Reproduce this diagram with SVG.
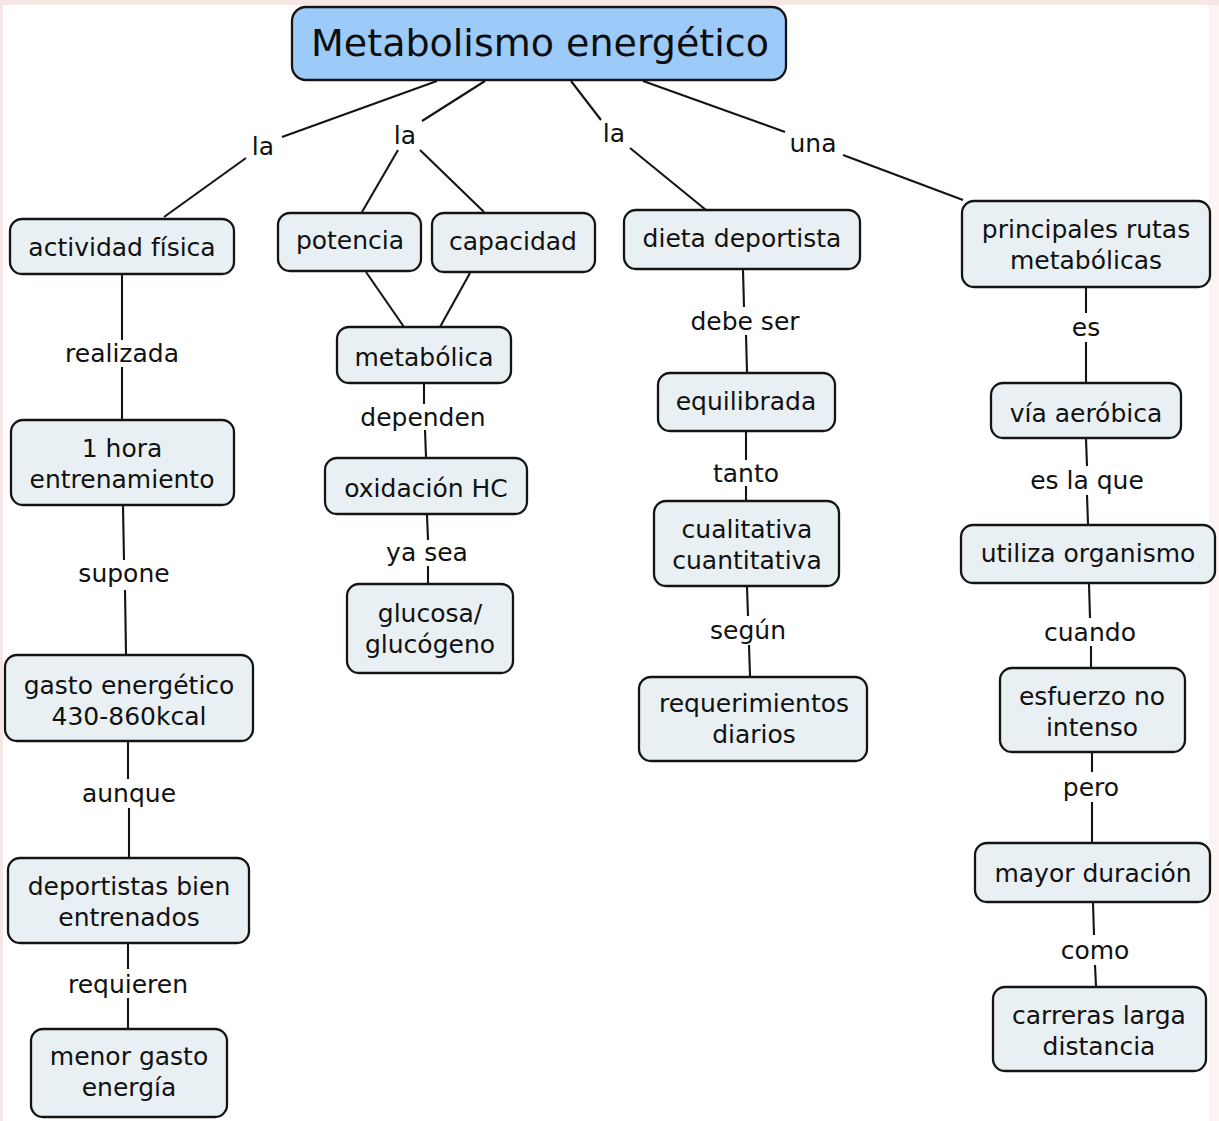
<svg xmlns="http://www.w3.org/2000/svg" width="1219" height="1121" viewBox="0 0 1219 1121">
<style>
.n rect{fill:#e9f0f3;stroke:#141414;stroke-width:2.3}
.t{font-family:"DejaVu Sans",Verdana,sans-serif;font-size:25px;fill:#111;text-anchor:middle}
.lbl{font-family:"DejaVu Sans",Verdana,sans-serif;font-size:25px;fill:#111;text-anchor:middle}
#connectors line{stroke:#141414;stroke-width:2.1;fill:none}
</style>
<rect x="0" y="0" width="1219" height="1121" fill="#f6e7e4"/>
<rect x="1209" y="5" width="10" height="1116" fill="#fbf4f3"/>
<rect x="3" y="5" width="1206" height="1116" fill="#ffffff"/>

<g id="connectors">
  <line x1="437" y1="81" x2="282" y2="137"/>
  <line x1="246" y1="158" x2="164" y2="217"/>
  <line x1="485" y1="81" x2="422" y2="121"/>
  <line x1="398" y1="150" x2="362" y2="212"/>
  <line x1="420" y1="150" x2="484" y2="212"/>
  <line x1="571" y1="81" x2="601" y2="120"/>
  <line x1="630" y1="148" x2="706" y2="210"/>
  <line x1="643" y1="81" x2="785" y2="132"/>
  <line x1="843" y1="155" x2="963" y2="200"/>
  <line x1="366" y1="272" x2="404" y2="327"/>
  <line x1="470" y1="273" x2="440" y2="327"/>
  <line x1="122" y1="275" x2="122" y2="340"/>
  <line x1="122" y1="367" x2="122" y2="419"/>
  <line x1="123" y1="506" x2="124" y2="560"/>
  <line x1="125" y1="590" x2="126" y2="654"/>
  <line x1="128" y1="742" x2="128" y2="779"/>
  <line x1="129" y1="808" x2="129" y2="857"/>
  <line x1="128" y1="944" x2="128" y2="969"/>
  <line x1="128" y1="998" x2="128" y2="1028"/>
  <line x1="424" y1="384" x2="424" y2="404"/>
  <line x1="425" y1="430" x2="426" y2="457"/>
  <line x1="427" y1="515" x2="428" y2="540"/>
  <line x1="428" y1="566" x2="428" y2="583"/>
  <line x1="743" y1="270" x2="744" y2="307"/>
  <line x1="746" y1="335" x2="747" y2="372"/>
  <line x1="746" y1="432" x2="746" y2="460"/>
  <line x1="746" y1="486" x2="746" y2="500"/>
  <line x1="747" y1="587" x2="748" y2="616"/>
  <line x1="749" y1="645" x2="750" y2="676"/>
  <line x1="1086" y1="288" x2="1086" y2="313"/>
  <line x1="1086" y1="342" x2="1086" y2="382"/>
  <line x1="1086" y1="439" x2="1087" y2="466"/>
  <line x1="1087" y1="495" x2="1088" y2="524"/>
  <line x1="1089" y1="584" x2="1090" y2="618"/>
  <line x1="1091" y1="646" x2="1091" y2="667"/>
  <line x1="1092" y1="753" x2="1092" y2="772"/>
  <line x1="1092" y1="802" x2="1092" y2="842"/>
  <line x1="1093" y1="903" x2="1094" y2="935"/>
  <line x1="1095" y1="965" x2="1096" y2="986"/>
</g>

<g id="labels">
  <text class="lbl" x="263" y="155">la</text>
  <text class="lbl" x="405" y="144">la</text>
  <text class="lbl" x="614" y="142">la</text>
  <text class="lbl" x="813" y="152">una</text>
  <text class="lbl" x="122" y="362">realizada</text>
  <text class="lbl" x="124" y="582">supone</text>
  <text class="lbl" x="129" y="802">aunque</text>
  <text class="lbl" x="128" y="993">requieren</text>
  <text class="lbl" x="423" y="426">dependen</text>
  <text class="lbl" x="427" y="561">ya sea</text>
  <text class="lbl" x="745" y="330">debe ser</text>
  <text class="lbl" x="746" y="482">tanto</text>
  <text class="lbl" x="748" y="639">según</text>
  <text class="lbl" x="1086" y="336">es</text>
  <text class="lbl" x="1087" y="489">es la que</text>
  <text class="lbl" x="1090" y="641">cuando</text>
  <text class="lbl" x="1091" y="796">pero</text>
  <text class="lbl" x="1095" y="959">como</text>
</g>

<g id="n-title">
  <rect x="292" y="7" width="494" height="73" rx="14" fill="#9ccaf9" stroke="#141414" stroke-width="2.3"/>
  <text x="540" y="56" font-family="DejaVu Sans,Verdana,sans-serif" font-size="38" fill="#0d0d0d" text-anchor="middle">Metabolismo energético</text>
</g>

<g id="n-actividad" class="n"><rect x="10" y="219" width="224" height="55" rx="12"/><text class="t" x="122" y="256">actividad física</text></g>
<g id="n-hora" class="n"><rect x="11" y="420" width="223" height="85" rx="12"/><text class="t" x="122" y="457">1 hora</text><text class="t" x="122" y="488">entrenamiento</text></g>
<g id="n-gasto" class="n"><rect x="5" y="655" width="248" height="86" rx="12"/><text class="t" x="129" y="694">gasto energético</text><text class="t" x="129" y="725">430-860kcal</text></g>
<g id="n-deportistas" class="n"><rect x="8" y="858" width="241" height="85" rx="12"/><text class="t" x="129" y="895">deportistas bien</text><text class="t" x="129" y="926">entrenados</text></g>
<g id="n-menor" class="n"><rect x="31" y="1029" width="196" height="88" rx="12"/><text class="t" x="129" y="1065">menor gasto</text><text class="t" x="129" y="1096">energía</text></g>

<g id="n-potencia" class="n"><rect x="278" y="213" width="143" height="58" rx="12"/><text class="t" x="350" y="249">potencia</text></g>
<g id="n-capacidad" class="n"><rect x="432" y="213" width="163" height="59" rx="12"/><text class="t" x="513" y="250">capacidad</text></g>
<g id="n-metabolica" class="n"><rect x="337" y="327" width="174" height="56" rx="12"/><text class="t" x="424" y="366">metabólica</text></g>
<g id="n-oxidacion" class="n"><rect x="325" y="458" width="202" height="56" rx="12"/><text class="t" x="426" y="497">oxidación HC</text></g>
<g id="n-glucosa" class="n"><rect x="347" y="584" width="166" height="89" rx="12"/><text class="t" x="430" y="622">glucosa/</text><text class="t" x="430" y="653">glucógeno</text></g>

<g id="n-dieta" class="n"><rect x="624" y="210" width="236" height="59" rx="12"/><text class="t" x="742" y="247">dieta deportista</text></g>
<g id="n-equilibrada" class="n"><rect x="658" y="373" width="177" height="58" rx="12"/><text class="t" x="746" y="410">equilibrada</text></g>
<g id="n-cualitativa" class="n"><rect x="654" y="501" width="185" height="85" rx="12"/><text class="t" x="747" y="538">cualitativa</text><text class="t" x="747" y="569">cuantitativa</text></g>
<g id="n-requerimientos" class="n"><rect x="639" y="677" width="228" height="84" rx="12"/><text class="t" x="754" y="712">requerimientos</text><text class="t" x="754" y="743">diarios</text></g>

<g id="n-principales" class="n"><rect x="962" y="201" width="248" height="86" rx="12"/><text class="t" x="1086" y="238">principales rutas</text><text class="t" x="1086" y="269">metabólicas</text></g>
<g id="n-via" class="n"><rect x="991" y="383" width="190" height="55" rx="12"/><text class="t" x="1086" y="422">vía aeróbica</text></g>
<g id="n-utiliza" class="n"><rect x="961" y="525" width="254" height="58" rx="12"/><text class="t" x="1088" y="562">utiliza organismo</text></g>
<g id="n-esfuerzo" class="n"><rect x="1000" y="668" width="185" height="84" rx="12"/><text class="t" x="1092" y="705">esfuerzo no</text><text class="t" x="1092" y="736">intenso</text></g>
<g id="n-mayor" class="n"><rect x="975" y="843" width="235" height="59" rx="12"/><text class="t" x="1093" y="882">mayor duración</text></g>
<g id="n-carreras" class="n"><rect x="993" y="987" width="213" height="84" rx="12"/><text class="t" x="1099" y="1024">carreras larga</text><text class="t" x="1099" y="1055">distancia</text></g>
</svg>
